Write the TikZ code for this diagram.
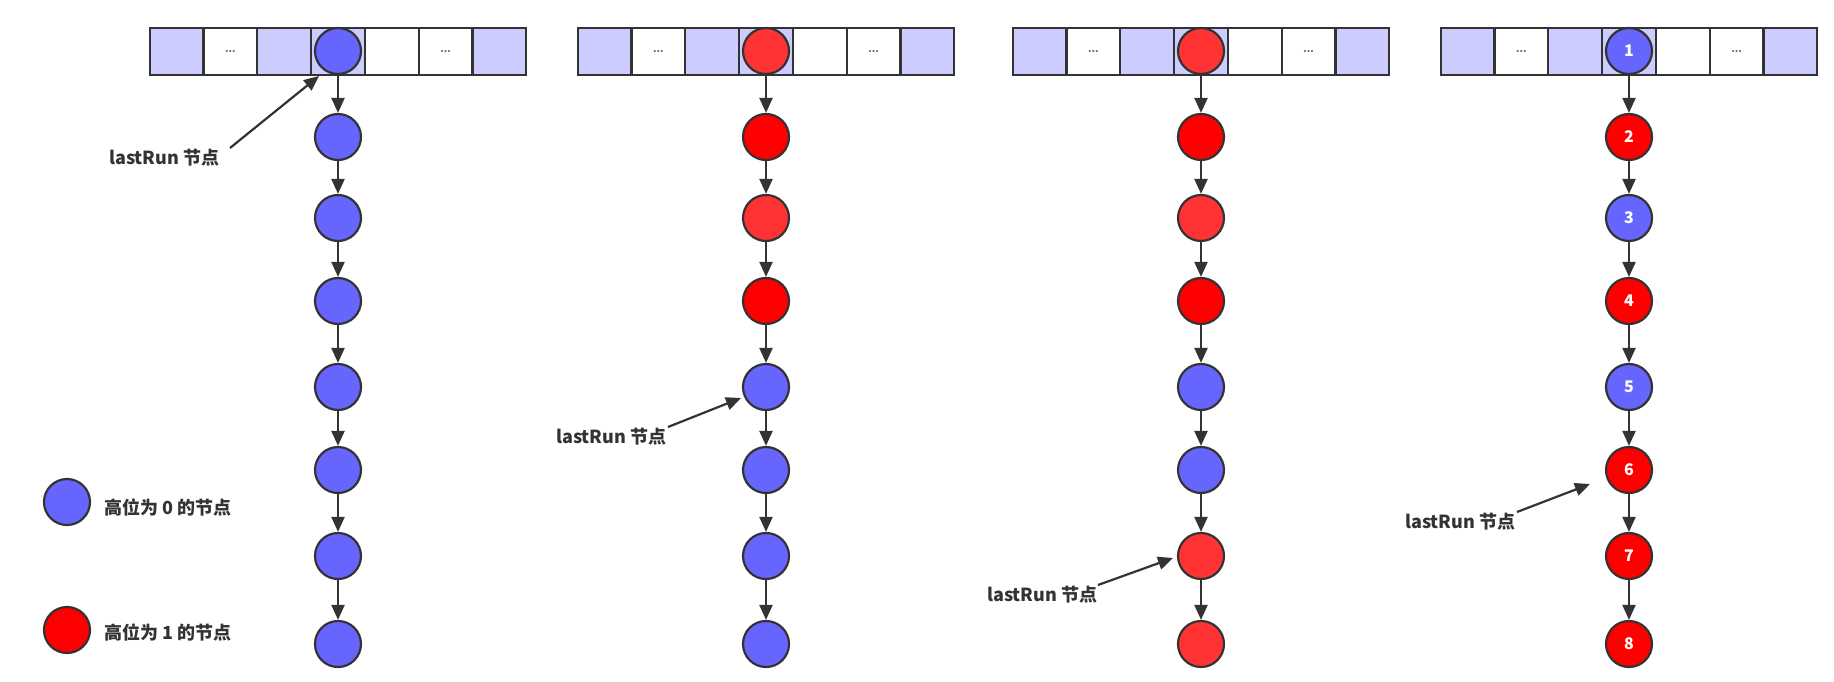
\documentclass[tikz,border=0pt]{standalone}
\usepackage{fontspec}
\setmainfont{Noto Sans CJK SC}
\usetikzlibrary{arrows.meta}
\definecolor{nblue}{HTML}{6666FF}
\definecolor{nred}{HTML}{FF0000}
\definecolor{lred}{HTML}{FF3333}
\definecolor{cellc}{HTML}{CCCCFF}
\definecolor{edge}{HTML}{333333}
\definecolor{txt}{HTML}{333333}
\tikzset{
  cellbox/.style={draw=edge,line width=2.2pt,minimum width=53.8pt,minimum height=47pt,inner sep=0pt,
     font=\fontsize{10}{10}\selectfont\bfseries,text=black!60},
  circ/.style={circle,draw=edge,line width=2.2pt,minimum size=46pt,inner sep=0pt,
     font=\fontsize{16}{16}\selectfont\bfseries,text=white},
  arr/.style={draw=edge,line width=2.2pt,-{Triangle[length=15pt,width=13pt]}},
  lbl/.style={font=\fontsize{18}{18}\selectfont\bfseries,text=txt,inner sep=0pt,anchor=west},
}
\begin{document}
\begin{tikzpicture}[x=1pt,y=-1pt]
\useasboundingbox (0,0) rectangle (1834,682);
\def\ys{{51,137,218,301,387,470,556,644}}
% arrays
\foreach \c/\xc in {1/338,2/766,3/1201,4/1629}{
  \foreach \i/\f/\t in {1/cellc/{},2/white/{...},3/cellc/{},4/cellc/{},5/white/{},6/white/{...},7/cellc/{}}{
    \node[cellbox,fill=\f] (a\c-\i) at ({\xc+(\i-4)*53.8},51.5) {\t};
  }
}
% column 1
\foreach \i in {0,...,7}{
  \pgfmathsetmacro\yy{\ys[\i]}
  \node[circ,fill=nblue] (n1-\i) at (338,\yy) {};
}
% column 2
\foreach \i/\f in {0/lred,1/nred,2/lred,3/nred,4/nblue,5/nblue,6/nblue,7/nblue}{
  \pgfmathsetmacro\yy{\ys[\i]}
  \node[circ,fill=\f] (n2-\i) at (766,\yy) {};
}
% column 3
\foreach \i/\f in {0/lred,1/nred,2/lred,3/nred,4/nblue,5/nblue,6/lred,7/lred}{
  \pgfmathsetmacro\yy{\ys[\i]}
  \node[circ,fill=\f] (n3-\i) at (1201,\yy) {};
}
% column 4
\foreach \i/\f in {0/nblue,1/nred,2/nblue,3/nred,4/nblue,5/nred,6/nred,7/nred}{
  \pgfmathsetmacro\yy{\ys[\i]}
  \pgfmathtruncatemacro\nn{\i+1}
  \node[circ,fill=\f] (n4-\i) at (1629,\yy) {\nn};
}
% chain arrows
\foreach \c in {1,2,3,4}{
  \foreach \i [evaluate=\i as \j using int(\i+1)] in {0,...,6}{
    \draw[arr] (n\c-\i) -- (n\c-\j);
  }
}
% lastRun labels
\node[lbl] (l1) at (109,158) {lastRun 节点};
\node[lbl] (l2) at (556,437) {lastRun 节点};
\node[lbl] (l3) at (987,595) {lastRun 节点};
\node[lbl] (l4) at (1405,522) {lastRun 节点};
\coordinate (s1) at (230,148); \coordinate (t1) at (319,76);
\coordinate (s2) at (668,427); \coordinate (t2) at (741,398);
\coordinate (s3) at (1098,585); \coordinate (t3) at (1173,558);
\coordinate (s4) at (1517,512); \coordinate (t4) at (1590,484);
\foreach \k in {1,2,3,4}{ \draw[arr] (s\k) -- (t\k); }
% legend
\node[circ,fill=nblue] (g0) at (67,502) {};
\node[circ,fill=nred] (g1) at (67,630) {};
\node[lbl] (g0t) at (104,507) {高位为 0 的节点};
\node[lbl] (g1t) at (104,632) {高位为 1 的节点};
\end{tikzpicture}
\end{document}
